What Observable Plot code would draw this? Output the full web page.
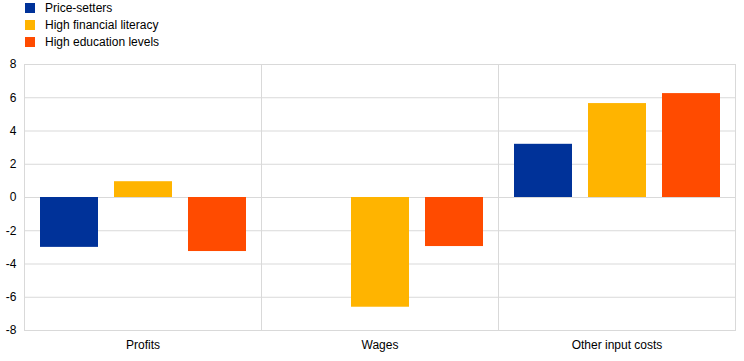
<!DOCTYPE html>
<html><head><meta charset="utf-8">
<script src="https://cdn.jsdelivr.net/npm/d3@7"></script>
<script src="https://cdn.jsdelivr.net/npm/@observablehq/plot@0.6"></script>
<style>
body{margin:0;background:#fff;font-family:"Liberation Sans",Arial,sans-serif;}
#legend{height:56px;position:relative;font-size:12px;color:#000;}
.item{position:absolute;left:25px;display:flex;align-items:center;height:10px;white-space:nowrap;}
.sw{width:10px;height:10px;margin-right:10px;flex:none;}
</style></head><body>
<div id="legend"></div><div id="chart"></div>
<script>
const categories = ["Profits", "Wages", "Other input costs"];
const series = ["Price-setters", "High financial literacy", "High education levels"];
const colors = ["#003299", "#FFB400", "#FF4B00"];
const priceSetters = [-3.0, null, 3.2];
const highFinancialLiteracy = [0.95, -6.6, 5.65];
const highEducationLevels = [-3.25, -2.95, 6.25];
const yTicks = [-8, -6, -4, -2, 0, 2, 4, 6, 8];

const seriesValues = [priceSetters, highFinancialLiteracy, highEducationLevels];
const data = [];
categories.forEach((c, i) => {
  series.forEach((s, j) => {
    const v = seriesValues[j][i];
    if (v != null) data.push({category: c, series: s, value: v});
  });
});

const legend = document.getElementById("legend");
series.forEach((s, j) => {
  const it = document.createElement("div");
  it.className = "item";
  it.style.top = (3 + j * 17) + "px";
  it.innerHTML = `<span class="sw" style="background:${colors[j]}"></span><span>${s}</span>`;
  legend.appendChild(it);
});

const grid = "#d9d9d9";
const chart = Plot.plot({
  width: 744,
  height: 305,
  marginLeft: 24,
  marginRight: 9,
  marginTop: 8,
  marginBottom: 31,
  style: {fontFamily: "'Liberation Sans', Arial, sans-serif", fontSize: "12px", color: "#000", background: "#fff"},
  fx: {domain: categories, padding: 0, label: null},
  x: {domain: series, paddingInner: 0.22, paddingOuter: 0.2, axis: null},
  y: {domain: [-8, 8], label: null},
  color: {domain: series, range: colors},
  marks: [
    Plot.gridY(yTicks, {stroke: grid, strokeOpacity: 1}),
    Plot.frame({stroke: grid, strokeOpacity: 1}),
    Plot.barY(data, {fx: "category", x: "series", y: "value", fill: "series"}),
    Plot.axisY(yTicks, {tickSize: 0, tickPadding: 8, tickFormat: d => String(d), label: null}),
    Plot.axisFx({anchor: "bottom", tickSize: 0, tickPadding: 10, label: null})
  ]
});
document.getElementById("chart").appendChild(chart);
</script>
</body></html>
